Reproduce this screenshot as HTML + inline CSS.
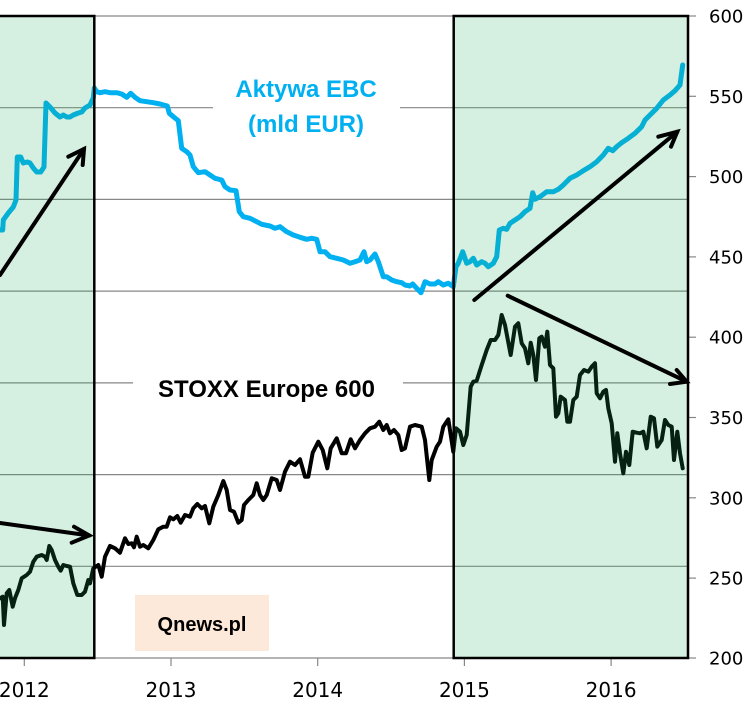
<!DOCTYPE html>
<html><head><meta charset="utf-8"><style>
html,body{margin:0;padding:0;background:#fff;}
svg{display:block;}
</style></head><body>
<svg width="751" height="709" viewBox="0 0 751 709" xmlns="http://www.w3.org/2000/svg">
<rect x="0" y="0" width="751" height="709" fill="#fff"/>
<g stroke="#878787" stroke-width="1.2">
<line x1="0" y1="16" x2="688" y2="16"/>
<line x1="0" y1="107.7" x2="688" y2="107.7"/>
<line x1="0" y1="199.4" x2="688" y2="199.4"/>
<line x1="0" y1="291.1" x2="688" y2="291.1"/>
<line x1="0" y1="382.9" x2="688" y2="382.9"/>
<line x1="0" y1="474.6" x2="688" y2="474.6"/>
<line x1="0" y1="566.3" x2="688" y2="566.3"/>
<line x1="0" y1="658" x2="688" y2="658"/>
<line x1="688" y1="16" x2="688" y2="658"/>
<line x1="24.3" y1="658" x2="24.3" y2="666"/>
<line x1="171" y1="658" x2="171" y2="666"/>
<line x1="317.7" y1="658" x2="317.7" y2="666"/>
<line x1="464.4" y1="658" x2="464.4" y2="666"/>
<line x1="611.1" y1="658" x2="611.1" y2="666"/>
<line x1="688" y1="16" x2="696" y2="16"/>
<line x1="688" y1="96.3" x2="696" y2="96.3"/>
<line x1="688" y1="176.6" x2="696" y2="176.6"/>
<line x1="688" y1="256.9" x2="696" y2="256.9"/>
<line x1="688" y1="337.2" x2="696" y2="337.2"/>
<line x1="688" y1="417.5" x2="696" y2="417.5"/>
<line x1="688" y1="497.8" x2="696" y2="497.8"/>
<line x1="688" y1="578.1" x2="696" y2="578.1"/>
<line x1="688" y1="658" x2="696" y2="658"/>
</g>
<rect x="213" y="72" width="187" height="72" fill="#fff"/>
<rect x="133" y="372" width="270" height="32" fill="#fff"/>
<rect x="135" y="595" width="134" height="56" fill="#fde9d9"/>

<polyline fill="none" stroke="#00b0f0" stroke-width="5" stroke-linejoin="round" stroke-linecap="round" points="0,230 2.7,230 3.3,220 8.3,213 13.3,207 16,200 17.3,157 20.7,157 23.3,163 27.3,162 30,163 33.3,168 36.7,172 40.7,172 44,167 46,103 50,107 55,113 60,117 63.3,115 66.7,117 70,117 73.3,115 78.3,113 81.7,112 85,108 90,105 93.3,98 94.3,88 96.7,91.7 100,92.7 105,91.7 110,92.7 116.7,92.7 121.7,94 126.7,97.3 130.7,93.3 135,97.3 140,100.7 146.7,101.7 153.3,102.7 160,104 167.3,106 169.3,113.3 173.3,116.7 178.3,120.7 181.7,148.3 186.7,151.7 190,155 193.3,166.7 198.3,172.7 205,171.7 210,175 215,178.3 221.7,180 225,186.7 230,190 236,190.7 239.3,211.7 243.3,216.7 250,218.3 256.7,221.7 261.7,224.3 270,226 275,228.3 280,226.7 286.7,231.7 293.3,235 300,237.3 306.7,239.3 311.7,238.3 316.7,239.3 320,251.7 325,251.7 330,256.7 336.7,258.3 343.3,260 350,263.3 355,261.7 360,260 364,251.7 366.7,261.7 370,260 375,254 378.3,261.7 383.3,276.7 386.7,276.7 391.7,280 396.7,281.7 401.7,282.7 405,285 410,286 412.7,284 416.7,288.3 421,292.7 425,281.7 430,284 435,284 438.3,281.7 443.3,285 448.3,283.3 453.3,286.7 456,266.7 458.3,263.3 462.7,251.7 466.7,263.3 470,261.7 473.3,258.3 476.7,265 481.7,261.7 485,263.3 488.3,266.7 493.3,263.3 496.7,256.7 499.3,230 503.3,228.3 506.7,229.3 510,223.3 515,220 520,216.7 525,211.7 530,208.3 532.7,192.7 535,199.3 540,196.7 546.7,191.7 553.3,191.7 558.3,189.3 563.3,185 570,178.3 576.7,175 583.3,170.7 590,166.7 596.7,161.7 603.3,155 608.3,148.3 612.7,150.7 616.7,146.7 621.7,142.7 628.3,138.3 635,133.3 641.7,126.7 645,120 650,115 656.7,108.3 663.3,100 670,95 675,90.7 680,85 682.7,65"/>

<polyline fill="none" stroke="#000" stroke-width="4" stroke-linejoin="round" stroke-linecap="round" points="0,598.3 2.7,596.7 4,625 6.7,593.3 9.3,590 12.7,606.7 15,598.3 18.3,590 21.7,578.3 26.7,575 30,571.7 33.3,561.7 36.7,556.7 41.7,555 45,556.7 46.7,560 49.3,546 51.7,550 55,560 58.3,566.7 60.7,570.7 63.3,565 66.7,566 70,566.7 73.3,583.3 77.3,595 81.7,595 85,591.7 88.3,580 90,583.3 93.3,568.3 98.3,565 101.7,576.7 105,556.7 110,546 115,548.3 120,552.7 125,538.3 128.3,544 131.7,543.3 134,547.3 136.7,536.7 140,546.7 143.3,545 148.3,548.3 153.3,540 158.3,529.3 163.3,526.7 166.7,526.7 170,517.3 173.3,519.3 177.3,516 180.7,522.7 185,515 190,516.7 193.3,508.3 197.3,504 201.7,508.3 205,506 209.3,523.3 213.3,506.7 218.3,495 223.3,481 226.7,490 230,510 234,511.7 238.3,522.7 241.7,520 244,505 248.3,500 253.3,495 256.7,483.3 260,495 263.3,500 266.7,495 271.7,478.3 276.7,480 280,490 285,471.7 290,461.7 295,465 300,459.3 305,476.7 308.3,476.7 312.7,452.7 318.3,441.7 322.7,450 327.3,468.3 330.7,448.3 336.7,438.3 341.7,453.3 346,453.3 350.7,439.3 355,448.3 360,440 365,433.3 370,428.3 375,426.7 379.3,421.7 383.3,430 386.7,425 390,433.3 394,430 398.3,435 401.7,450 405,448.3 410,426.7 415,425 421.7,426.7 425,440 429.3,480 431.7,460 436.7,446.7 440,441.7 443.3,426.7 448.3,419.3 453.3,451.7 456,428.3 460,431.7 463.3,445 466.7,435 470.7,386.7 473.3,381.7 476.7,380.7 481.7,365 486.7,350 490.7,340 495,340 498.3,335 501.7,315 505,325 510.7,355 515,326.7 518.3,323.3 521.7,343.3 525,348.3 528.3,363.3 530.7,342.7 533.3,355 536,380 539.3,338.3 541.7,336.7 545,346.7 547.3,331.7 550,365 553.3,368.3 556,416.7 558.3,413.3 560.7,396.7 565,400 567.3,421.7 570,421.7 573.3,400 576.7,396.7 580,375 584,370 588.3,371.7 591.7,366.7 595,363.3 596.7,393.3 600,398.3 603.3,391.7 606,390 608.3,408.3 611.7,423.3 615,461.7 617.3,433.3 620,453.3 623.3,473.3 626,451.7 629.3,465 632.7,431.7 636.7,432.7 640,433.3 643.3,431.7 646.7,448.3 650.7,416.7 654,418.3 657.3,446.7 661.7,440 665,420 668.3,425 671.7,426.7 674,460 677.3,431.7 680,453.3 682.7,468.3"/>

<rect x="-5" y="16" width="99.3" height="642" fill="rgba(30,170,90,0.19)" stroke="#000" stroke-width="2.5"/>
<rect x="453.7" y="16" width="234.3" height="642" fill="rgba(30,170,90,0.19)" stroke="#000" stroke-width="2.5"/>

<g stroke="#000" stroke-width="4" fill="none" stroke-linecap="round" stroke-linejoin="miter">
<line x1="0" y1="275" x2="84" y2="149"/>
<polyline points="68.3,156.7 84,149 82.7,165"/>
<line x1="0" y1="523" x2="89.3" y2="535.5"/>
<polyline points="74,526.7 89.3,535.5 71.7,542.7"/>
<line x1="474.3" y1="300" x2="677.3" y2="131.7"/>
<polyline points="658.3,136.7 677.3,131.7 671,146.7"/>
<line x1="507.7" y1="295.7" x2="686.7" y2="381.7"/>
<polyline points="676.7,370 686.7,381.7 670,384"/>
</g>

<g font-family="'Liberation Sans', Arial, sans-serif" font-weight="bold" font-size="24" text-anchor="middle">
<text x="306" y="97" fill="#00b0f0">Aktywa EBC</text>
<text x="306" y="132" fill="#00b0f0">(mld EUR)</text>
<text x="266.5" y="397" fill="#000">STOXX Europe 600</text>
<text x="202" y="631" fill="#000" font-size="20">Qnews.pl</text>
</g>

<g font-family="'DejaVu Sans', Verdana, sans-serif" font-size="18" fill="#000">
<text x="709" y="22.5">600</text>
<text x="709" y="102.8">550</text>
<text x="709" y="183.1">500</text>
<text x="709" y="263.4">450</text>
<text x="709" y="343.7">400</text>
<text x="709" y="424">350</text>
<text x="709" y="504.3">300</text>
<text x="709" y="584.6">250</text>
<text x="709" y="664.5">200</text>
</g>
<g font-family="'DejaVu Sans', Verdana, sans-serif" font-size="20" fill="#000" text-anchor="middle">
<text x="24.3" y="697">2012</text>
<text x="171" y="697">2013</text>
<text x="317.7" y="697">2014</text>
<text x="464.4" y="697">2015</text>
<text x="611.1" y="697">2016</text>
</g>
</svg>
</body></html>
